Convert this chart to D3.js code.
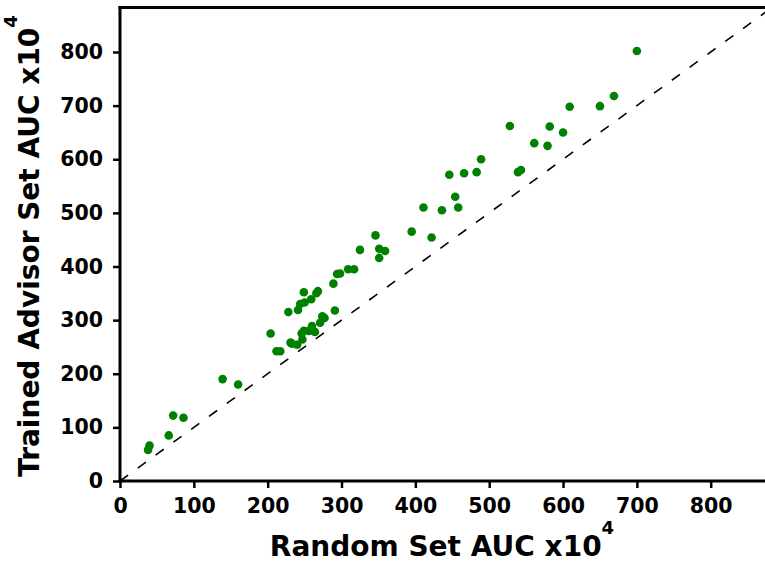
<!DOCTYPE html>
<html>
<head>
<meta charset="utf-8">
<script src="https://cdn.jsdelivr.net/npm/d3@7"></script>
<style>
  html, body { margin: 0; padding: 0; background: #fff; }
  svg { display: block; }
  text { font-family: "DejaVu Sans", sans-serif; font-weight: bold; fill: #000; }
</style>
</head>
<body>
<svg id="chart" width="765" height="565"></svg>
<script>
// Random Set AUC (x10^4)
const randomAUC = [38, 40, 66, 72, 86, 139, 160, 204, 212, 217, 228, 231, 233, 240, 241, 244, 249, 250, 246, 249,
  247, 256, 259, 260, 264, 266, 268, 271, 274, 277, 289, 291, 294, 298, 309, 317, 325, 346, 351, 359,
  351, 395, 422, 411, 436, 454, 458, 446, 466, 483, 489, 528, 539, 543, 561, 579, 582, 600, 609, 650,
  669, 700];
// Trained Advisor Set AUC (x10^4)
const advisorAUC = [58, 66, 85, 122, 118, 190, 180, 275, 242, 242, 315, 258, 256, 254, 319, 330, 352, 333, 275, 280,
  264, 280, 339, 289, 278, 350, 354, 295, 307, 304, 368, 318, 386, 387, 395, 395, 431, 458, 433, 429,
  416, 465, 454, 510, 505, 530, 510, 571, 574, 576, 600, 662, 576, 580, 630, 625, 661, 650, 698, 699,
  718, 802];
const tickValues = [0, 100, 200, 300, 400, 500, 600, 700, 800];
const axisMax = 883;

const svg = d3.select("#chart");
const mLeft = 120, mRight = 772, mTop = 7.5, mBottom = 481;

const x = d3.scaleLinear().domain([0, axisMax]).range([mLeft, mRight]);
const y = d3.scaleLinear().domain([0, axisMax]).range([mBottom, mTop]);

// identity dashed line
svg.append("line")
  .attr("x1", x(0)).attr("y1", y(0))
  .attr("x2", x(axisMax)).attr("y2", y(axisMax))
  .attr("stroke", "#000").attr("stroke-width", 1.6)
  .attr("stroke-dasharray", "10,12");

// points
svg.append("g").selectAll("circle")
  .data(randomAUC.map((v, i) => [v, advisorAUC[i]]))
  .join("circle")
  .attr("cx", d => x(d[0]))
  .attr("cy", d => y(d[1]))
  .attr("r", 4.3)
  .attr("fill", "#008000");

// axes
const xAxis = svg.append("g").attr("transform", `translate(0,${mBottom})`)
  .call(d3.axisBottom(x).tickValues(tickValues).tickSize(7).tickPadding(10).tickFormat(d3.format("d")));
const yAxis = svg.append("g").attr("transform", `translate(${mLeft},0)`)
  .call(d3.axisLeft(y).tickValues(tickValues).tickSize(7).tickPadding(10).tickFormat(d3.format("d")));

[xAxis, yAxis].forEach(g => {
  g.select(".domain").remove();
  g.selectAll(".tick line").attr("stroke", "#000").attr("stroke-width", 2.5);
  g.selectAll(".tick text").style("font-size", "20.5px").style("font-family", "DejaVu Sans").style("font-weight", "bold");
});

// spines
svg.append("line").attr("x1", mLeft).attr("x2", mLeft).attr("y1", mTop - 1.5).attr("y2", mBottom + 1.5)
  .attr("stroke", "#000").attr("stroke-width", 3);
svg.append("line").attr("x1", mLeft - 1.5).attr("x2", 770).attr("y1", mBottom).attr("y2", mBottom)
  .attr("stroke", "#000").attr("stroke-width", 3);
svg.append("line").attr("x1", mLeft - 1.5).attr("x2", 770).attr("y1", mTop).attr("y2", mTop)
  .attr("stroke", "#000").attr("stroke-width", 3);

// axis titles
const xt = svg.append("text")
  .attr("x", 442).attr("y", 556)
  .attr("text-anchor", "middle")
  .style("font-size", "28px");
xt.append("tspan").text("Random Set AUC x10");
xt.append("tspan").attr("dy", -22).style("font-size", "18px").text("4");

const yt = svg.append("text")
  .attr("transform", "translate(39,246) rotate(-90)")
  .attr("text-anchor", "middle")
  .style("font-size", "28px");
yt.append("tspan").text("Trained Advisor Set AUC x10");
yt.append("tspan").attr("dy", -22).style("font-size", "18px").text("4");
</script>
</body>
</html>
